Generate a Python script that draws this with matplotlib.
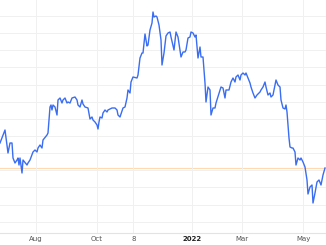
import numpy as np
import matplotlib
matplotlib.use("Agg")
import matplotlib.pyplot as plt

# trading-day index and price level (arbitrary units)
day = [0, 5, 8, 10, 12, 13, 15, 17, 18, 19, 20, 22, 23, 27, 28, 30, 33, 35, 37, 38, 40, 42, 43, 47, 48,
       50, 51, 52, 53, 55, 57, 58, 60, 62, 63, 65, 67, 68, 70, 72, 75, 77, 78, 80, 82, 83, 85, 88,
       90, 92, 93, 95, 97, 98, 99, 100, 102, 103, 105, 107, 108, 112, 115, 117, 118, 120, 123, 125,
       127, 128, 130, 131, 133, 137, 138, 140, 142, 143, 145, 147, 148, 150, 152, 153, 154, 156, 157,
       159, 161, 162, 164, 166, 168, 170, 171, 174, 176, 178, 181, 183, 185, 186, 188, 190, 191, 193,
       195, 196, 198, 200, 201, 203, 205, 206, 208, 210, 211, 213, 215, 216, 220, 221, 223, 225, 226,
       229, 231, 233, 235, 236, 238, 240, 241, 243, 245, 246, 248, 250, 251, 253, 255, 257, 260, 261,
       263, 265, 266, 268, 270, 271, 273, 275, 276, 278, 280, 281, 283, 285, 286, 287, 288, 289, 290,
       292, 293, 295, 296, 298, 300, 301, 303, 305, 307, 308, 310, 312, 313, 315, 317, 319, 321, 323, 325]
price = [90, 103, 80, 90, 90, 75, 70, 73, 75, 68, 75, 60, 73, 68, 70, 73, 81, 83, 81, 85, 88, 85, 93, 98, 100,
         126, 128, 123, 128, 126, 118, 133, 135, 130, 133, 135, 130, 131, 130, 135, 136, 133, 128, 126, 133, 129, 126, 125,
         114, 116, 113, 111, 108, 104, 111, 116, 115, 120, 123, 121, 123, 125, 125, 123, 118, 116, 125, 126,
         135, 143, 140, 151, 156, 155, 158, 175, 180, 180, 199, 187, 188, 203, 210, 221, 216, 217, 216,
         208, 193, 168, 180, 197, 200, 201, 196, 183, 201, 196, 176, 181, 181, 183, 195, 196, 201, 200,
         196, 198, 175, 186, 176, 176, 150, 131, 146, 143, 118, 125, 125, 130, 143, 146, 145, 135, 143,
         143, 151, 155, 151, 156, 158, 153, 158, 160, 158, 160, 155, 150, 146, 140, 135, 138, 141, 143,
         146, 151, 146, 138, 140, 136, 138, 148, 153, 148, 146, 133, 125, 124, 128, 121, 108, 95, 86,
         85, 85, 81, 68, 75, 73, 75, 71, 66, 53, 39, 46, 48, 30, 40, 51, 53, 48, 58, 65]

tick_pos = [36, 96.7, 133.3, 191.7, 241.7, 303.3]
tick_labels = ["Aug", "Oct", "8", "2022", "Mar", "May"]

W, H = 326, 245
fig = plt.figure(figsize=(W / 100, H / 100), dpi=100)
ax = fig.add_axes([0, 12 / H, 1, 233 / H])
ax.set_xlim(0, 326)
ax.set_ylim(0, 233)

ax.set_yticks(np.arange(11.3, 233, 17.14))
ax.set_xticks(tick_pos)
ax.set_xticklabels(tick_labels)
ax.grid(True, color="#f0f0f0", linewidth=0.7, zorder=0)
ax.tick_params(axis="y", left=False, labelleft=False)
ax.tick_params(axis="x", length=0, pad=2.5, labelsize=5, labelcolor="#555555")
for lab in ax.get_xticklabels():
    if lab.get_text() == "2022":
        lab.set_fontweight("bold")
        lab.set_color("#222222")

for s in ["top", "left", "right"]:
    ax.spines[s].set_visible(False)
ax.spines["bottom"].set_color("#e3e3e3")
ax.spines["bottom"].set_linewidth(0.8)

ax.axhline(price[-1], color="#ffd9b0", linewidth=0.8, zorder=1)
ax.plot(day, price, color="#3a6df2", linewidth=1.0, zorder=3, solid_joinstyle="round")

fig.savefig("out.png", dpi=100)
